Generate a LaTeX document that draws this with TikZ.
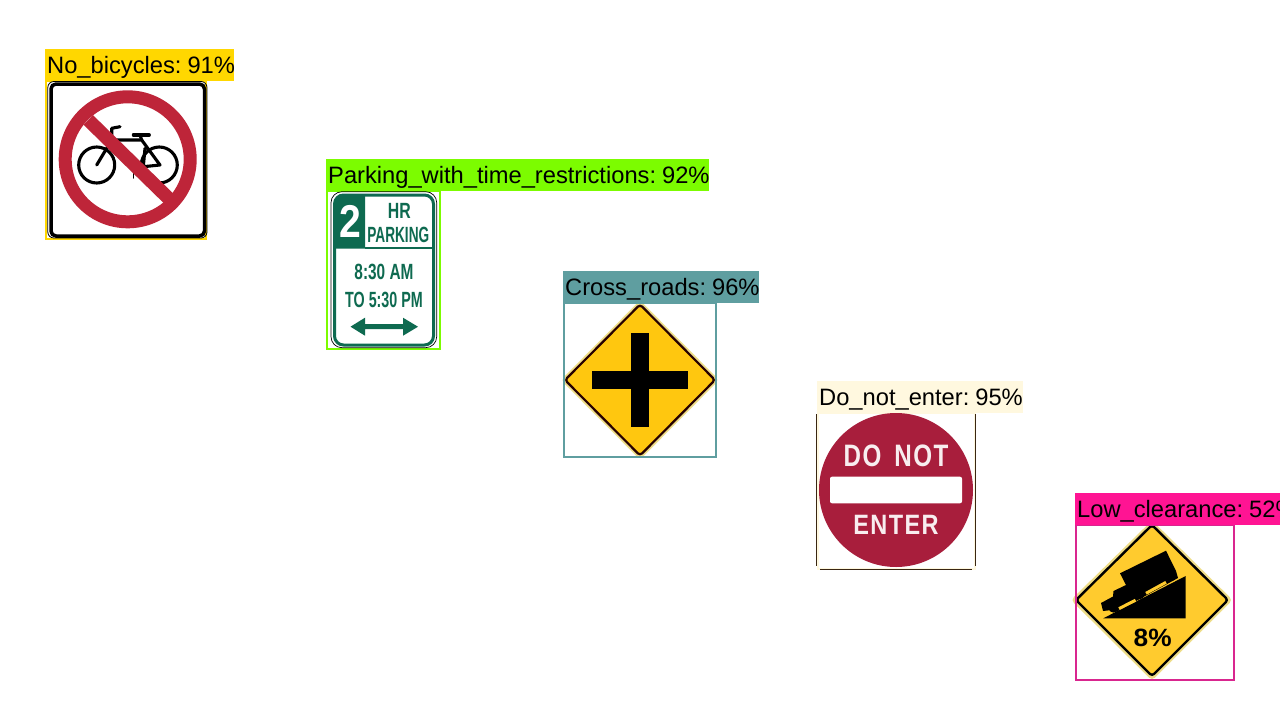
\documentclass[tikz,border=0pt]{standalone}
\usepackage{fontspec}
\setmainfont{Liberation Sans}
\newfontfamily\spacedbold[LetterSpace=6]{Liberation Sans}
\newcommand\lblsp{\hspace{6pt}}
\definecolor{cbike}{HTML}{FFD700}
\definecolor{cpark}{HTML}{7CFC00}
\definecolor{ccross}{HTML}{5F9EA0}
\definecolor{center}{HTML}{FFF8DF}
\definecolor{clow}{HTML}{FF1493}
\definecolor{clowbox}{HTML}{D9268F}
\definecolor{ringred}{HTML}{BE2539}
\definecolor{signgreen}{HTML}{0E6A50}
\definecolor{enterred}{HTML}{A81E3C}
\definecolor{signyellow}{HTML}{FFC70F}
\definecolor{lowyellow}{HTML}{FFCB2E}
\definecolor{paleedge}{HTML}{EEDD88}
\tikzset{
  lbl/.style={anchor=base west,inner sep=0pt,text=black,font=\fontsize{23.7}{28}\selectfont},
  signtxt/.style={inner sep=0pt,transform shape,anchor=center},
  bikeline/.style={draw=black,line width=3.1pt,line cap=round,line join=round},
  detbox/.style={line width=2pt}
}
\begin{document}
\begin{tikzpicture}[x=1pt,y=-1pt]
\useasboundingbox (0,0) rectangle (1280,720);
\fill[white] (0,0) rectangle (1280,720);

% ---- No bicycles
\draw[cbike,detbox] (46,81) rectangle (206,239);
\fill[white] (48,82) rectangle (205,238);
\draw[black,line width=.8pt,rounded corners=6pt] (47.8,81.5) rectangle (207,238);
\draw[black,line width=3.5pt,rounded corners=5pt] (51,84) rectangle (204.5,236);
\draw[bikeline] (96.7,165) circle[radius=18];
\draw[bikeline] (159.3,165) circle[radius=18];
\draw[bikeline] (96.7,165) -- (111.7,140) -- (141.7,140) -- (160,165) -- (143.3,166.7) -- (145,148.3);
\draw[bikeline] (111.7,140) -- (111.7,128.3) -- (120,126.7);
\draw[bikeline] (133.3,135) -- (149.3,135);
\draw[bikeline] (140,135) -- (141.7,140);
\draw[bikeline,line width=1.5pt] (133.3,168) -- (133.3,178);
\draw[ringred,line width=13pt] (127.7,159.3) circle[radius=62.5];
\draw[ringred,line width=13.5pt] (88.3,120) -- (173.3,203);
\fill[cbike] (45,49) rectangle (234,81);
\node[lbl] (lbike) at (47,73) {No\_bicycles:\lblsp 91\%};

% ---- Parking
\draw[cpark,detbox] (327,191) rectangle (440,349);
\fill[white] (328,192) rectangle (439,348);
\draw[black,line width=.7pt,rounded corners=11pt] (331,191.7) rectangle (436.7,347.7);
\draw[signgreen,line width=3pt,rounded corners=9pt] (334.5,195) rectangle (433.5,345);
\fill[signgreen,rounded corners=8pt] (365,248.5) [sharp corners] -- (365,195) [rounded corners=8pt] -- (334.5,195) [sharp corners] -- (334.5,248.5) -- cycle;
\draw[signgreen,line width=2pt] (365,248.3) -- (433.5,248.3);
\node[signtxt,text=white,xscale=.85,font=\fontsize{46}{46}\selectfont\bfseries] (ptwo) at (350.5,221) {2};
\node[signtxt,text=signgreen,xscale=.72,font=\fontsize{22}{22}\selectfont\bfseries] (phr) at (399.3,210.5) {HR};
\node[signtxt,text=signgreen,xscale=.62,font=\fontsize{22}{22}\selectfont\bfseries] (ppark) at (398.3,235) {PARKING};
\node[signtxt,text=signgreen,xscale=.7,font=\fontsize{22}{22}\selectfont\bfseries] (ptimea) at (384,271.7) {8:30 AM};
\node[signtxt,text=signgreen,xscale=.65,font=\fontsize{22}{22}\selectfont\bfseries] (ptimeb) at (384,299.5) {TO 5:30 PM};
\fill[signgreen] (350.5,326.7) -- (365,317.7) -- (365,324.2) -- (403,324.2) -- (403,317.7) -- (418,326.7) -- (403,335.7) -- (403,329.2) -- (365,329.2) -- (365,335.7) -- cycle;
\fill[cpark] (326,159) rectangle (709,191);
\node[lbl] (lpark) at (328,183) {Parking\_with\_time\_restrictions:\lblsp 92\%};

% ---- Cross roads
\fill[signyellow,draw=paleedge,line width=3pt,rounded corners=3pt] (640,302.5) -- (717,380) -- (640,457.5) -- (563,380) -- cycle;
\draw[black!85!red,line width=2.2pt,rounded corners=3pt] (640,304.5) -- (715,380) -- (640,455.5) -- (565,380) -- cycle;
\fill[black] (630.7,332.7) rectangle (649.3,427.3);
\fill[black] (592.3,370.7) rectangle (687.7,389.3);
\draw[ccross,detbox] (564,303) rectangle (716,457);
\fill[ccross] (563,271) rectangle (759,303);
\node[lbl] (lcross) at (565,295) {Cross\_roads:\lblsp 96\%};

% ---- Do not enter
\draw[center,detbox] (818,413) rectangle (975,569);
\draw[black!70!brown,line width=.8pt] (816.6,414) -- (816.6,566);
\draw[black!70!brown,line width=.8pt] (975.6,414) -- (975.6,566);
\draw[black!70!brown,line width=.8pt] (820,569.3) -- (972,569.3);
\fill[enterred] (896,490) circle[radius=77];
\fill[white,rounded corners=2pt] (830,476.7) rectangle (962,503.3);
\node[signtxt,text=white!92!enterred,xscale=.78,font=\fontsize{31}{31}\spacedbold\selectfont\bfseries] (ldo) at (896,456) {DO\hspace{.2em} NOT};
\node[signtxt,text=white!92!enterred,xscale=.84,font=\fontsize{28}{28}\spacedbold\selectfont\bfseries] (lent) at (896,525) {ENTER};
\fill[center] (817,381) rectangle (1023,413);
\node[lbl] (lenter) at (819,405) {Do\_not\_enter:\lblsp 95\%};

% ---- Low clearance
\fill[lowyellow,draw=paleedge,line width=3pt,rounded corners=3pt] (1152,522.5) -- (1230.5,600) -- (1152,678.5) -- (1073,600) -- cycle;
\draw[black,line width=2.4pt,rounded corners=3pt] (1152,525) -- (1228,600) -- (1152,676) -- (1076,600) -- cycle;
\fill[black] (1103.3,618.3) -- (1185.7,576) -- (1185.7,618.3) -- cycle;
\fill[black] (1120,573.3) -- (1166,550.7) -- (1176,571) -- (1178,578) -- (1116,612) -- (1112,610) -- (1103,611) -- (1101,603) -- (1113,596.5) -- (1113.5,591) -- (1126,585) -- cycle;
\fill[black] (1113.3,608) circle[radius=4.6];
\fill[black] (1140,595) circle[radius=4.2];
\fill[black] (1171.7,577) circle[radius=4];
\draw[lowyellow,line width=3pt] (1119,608.6) -- (1135.5,600.2);
\draw[lowyellow,line width=3pt] (1146,593.3) -- (1166,582.3);
\node[signtxt,text=black,xscale=1.05,font=\fontsize{25}{25}\selectfont\bfseries] (lpct) at (1152.7,637.7) {8\%};
\draw[clowbox,detbox] (1076,525) rectangle (1234,680);
\fill[clow] (1075,493) rectangle (1280,525);
\node[lbl] (llow) at (1077,517) {Low\_clearance:\lblsp 52\%};
\end{tikzpicture}
\end{document}
